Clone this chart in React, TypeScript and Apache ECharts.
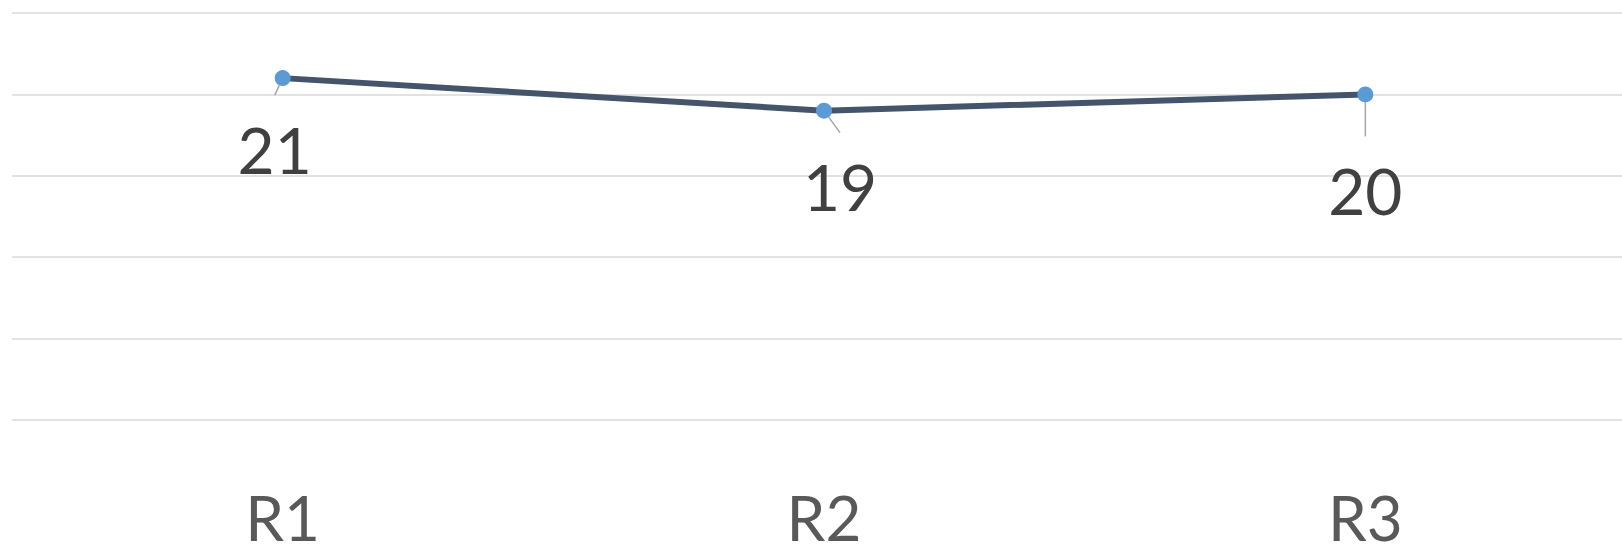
import React, { useEffect, useRef } from "react";
import * as echarts from "echarts";

const categories = ["R1", "R2", "R3"];
const values = [21, 19, 20];
const yMin = 0;
const yMax = 25;
const yInterval = 5;
// label centre offsets from each point (px)
const labelOffsets: [number, number][] = [
  [-8, 71],
  [16, 76],
  [0, 96],
];

export default function App() {
  const ref = useRef<HTMLDivElement>(null);
  useEffect(() => {
    if (!ref.current) return;
    const chart = echarts.init(ref.current, undefined, { renderer: "svg" });
    chart.setOption({
      animation: false,
      backgroundColor: "#ffffff",
      grid: { left: 12, right: 4, top: 13, bottom: 131, containLabel: false },
      xAxis: {
        type: "category",
        data: categories,
        boundaryGap: true,
        axisLine: { show: false },
        axisTick: { show: false },
        splitLine: { show: false },
        axisLabel: {
          margin: 74,
          fontFamily: "Lato, sans-serif",
          fontSize: 62,
          lineHeight: 46,
          color: "#595959",
        },
      },
      yAxis: {
        type: "value",
        min: yMin,
        max: yMax,
        interval: yInterval,
        axisLine: { show: false },
        axisTick: { show: false },
        axisLabel: { show: false },
        splitLine: { show: true, lineStyle: { color: "#d9d9d9", width: 1.5 } },
      },
      series: [
        {
          type: "line",
          data: values,
          symbol: "circle",
          symbolSize: 16,
          itemStyle: { color: "#5B9BD5" },
          lineStyle: { color: "#44546A", width: 6 },
          z: 3,
          label: {
            show: true,
            position: "inside",
            fontFamily: "Lato, sans-serif",
            fontSize: 64,
            color: "#404040",
            lineHeight: 66,
            padding: [21, 0, 21, 0],
          },
          labelLine: {
            show: true,
            lineStyle: { color: "#a6a6a6", width: 1.5 },
          },
          labelLayout: (params: any) => {
            const o = labelOffsets[params.dataIndex] || [0, 0];
            return { dx: o[0], dy: o[1] };
          },
        },
      ],
    });
    return () => chart.dispose();
  }, []);
  return (
    <div
      style={{
        position: "fixed",
        left: 0,
        top: 0,
        width: 1622,
        height: 551,
        overflow: "hidden",
        background: "#fff",
      }}
    >
      <div ref={ref} style={{ width: 1640, height: 551 }} />
    </div>
  );
}
